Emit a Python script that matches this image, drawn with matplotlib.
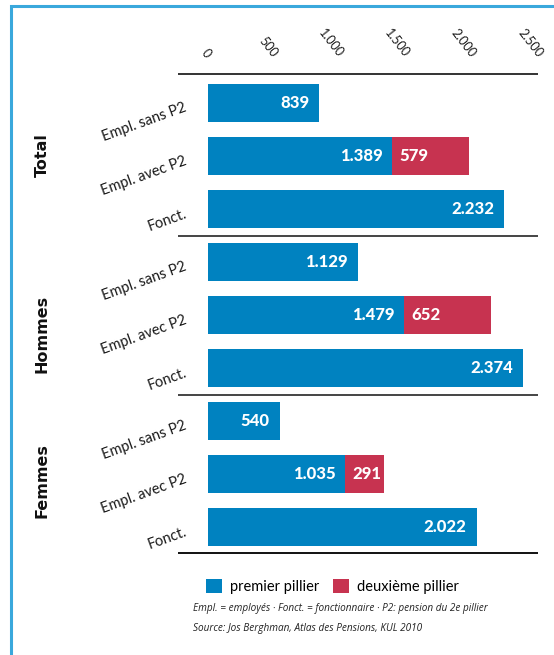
import matplotlib
matplotlib.use("Agg")
import matplotlib.pyplot as plt
from matplotlib.patches import Patch, Rectangle

# Pension amounts by group and status
groups = ["Total", "Hommes", "Femmes"]
statuses = ["Empl. sans P2", "Empl. avec P2", "Fonct."]
first_pillar = {
    "Total": [839, 1389, 2232],
    "Hommes": [1129, 1479, 2374],
    "Femmes": [540, 1035, 2022],
}
second_pillar = {
    "Total": [0, 579, 0],
    "Hommes": [0, 652, 0],
    "Femmes": [0, 291, 0],
}
xticks = [0, 500, 1000, 1500, 2000, 2500]
legend_labels = ["premier pillier", "deuxième pillier"]
notes = [
    "Empl. = employés \u00b7 Fonct. = fonctionnaire \u00b7 P2: pension du 2e pillier",
    "Source: Jos Berghman, Atlas des Pensions, KUL 2010",
]

BLUE = "#0082c0"
RED = "#c73350"
FRAME = "#3aa8dc"

plt.rcParams["font.family"] = ["Lato", "DejaVu Sans"]


def fmt(v):
    return f"{v:,}".replace(",", ".")


W, H = 554, 655
fig = plt.figure(figsize=(W / 100, H / 100), dpi=100)

# outer frame
fig.patches.append(Rectangle((11 / W, -0.05), 1.2, 1 - 6 / H + 0.05,
                             transform=fig.transFigure, fill=False,
                             edgecolor=FRAME, linewidth=2.2))

ax = fig.add_axes([178 / W, 1 - 553 / H, (540 - 178) / W, (553 - 74) / H])
ax.set_xlim(-226, 2500)
ax.set_ylim(8.49, -0.547)
for s in ax.spines.values():
    s.set_visible(False)

bar_h = 0.7
pos = 0
for g in groups:
    for k, st in enumerate(statuses):
        v1 = first_pillar[g][k]
        v2 = second_pillar[g][k]
        ax.barh(pos, v1, height=bar_h, color=BLUE, left=0)
        ax.text(v1 - 75, pos, fmt(v1), ha="right", va="center", color="white",
                fontsize=12, fontweight="black")
        if v2:
            ax.barh(pos, v2, height=bar_h, color=RED, left=v1)
            ax.text(v1 + 55, pos, fmt(v2), ha="left", va="center", color="white",
                    fontsize=12, fontweight="black")
        ax.text(-166, pos + 0.08, st, rotation=20, rotation_mode="anchor",
                ha="right", va="center", fontsize=10.5, color="#1a1a1a")
        pos += 1

# group separators
for y, c in [(-0.547, "#333333"), (2.5, "#444444"), (5.5, "#444444"), (8.49, "#111111")]:
    ax.hlines(y, -226, 2485, color=c, linewidth=1.4, clip_on=False)

# group titles
for g, yc in zip(groups, [155, 334, 481]):
    fig.text(42 / W, 1 - yc / H, g, rotation=90, ha="center", va="center",
             fontsize=11.5, fontweight="bold", color="#111111",
             family="DejaVu Sans")

ax.set_yticks([])
ax.xaxis.set_ticks_position("top")
ax.set_xticks(xticks)
ax.set_xticklabels([fmt(t) for t in xticks])
ax.tick_params(axis="x", length=0, pad=13)
for lab in ax.get_xticklabels():
    lab.set_rotation(-52)
    lab.set_rotation_mode("anchor")
    lab.set_ha("right")
    lab.set_va("center")
    lab.set_fontsize(9)
    lab.set_fontweight("normal")
    lab.set_color("#1a1a1a")

handles = [Patch(facecolor=BLUE), Patch(facecolor=RED)]
fig.legend(handles, legend_labels, loc="upper left",
           bbox_to_anchor=(196 / W, 1 - 569 / H), ncol=2, frameon=False,
           handlelength=1.1, handleheight=1.1, handletextpad=0.5,
           columnspacing=1.0, fontsize=10.5, borderpad=0.2)

for i, t in enumerate(notes):
    fig.text(193 / W, 1 - (609 + 20 * i) / H, t, ha="left", va="center",
             fontsize=7.2, style="italic", color="#222222",
             family=["Open Sans", "DejaVu Sans"])

fig.savefig("out.png", dpi=100)
